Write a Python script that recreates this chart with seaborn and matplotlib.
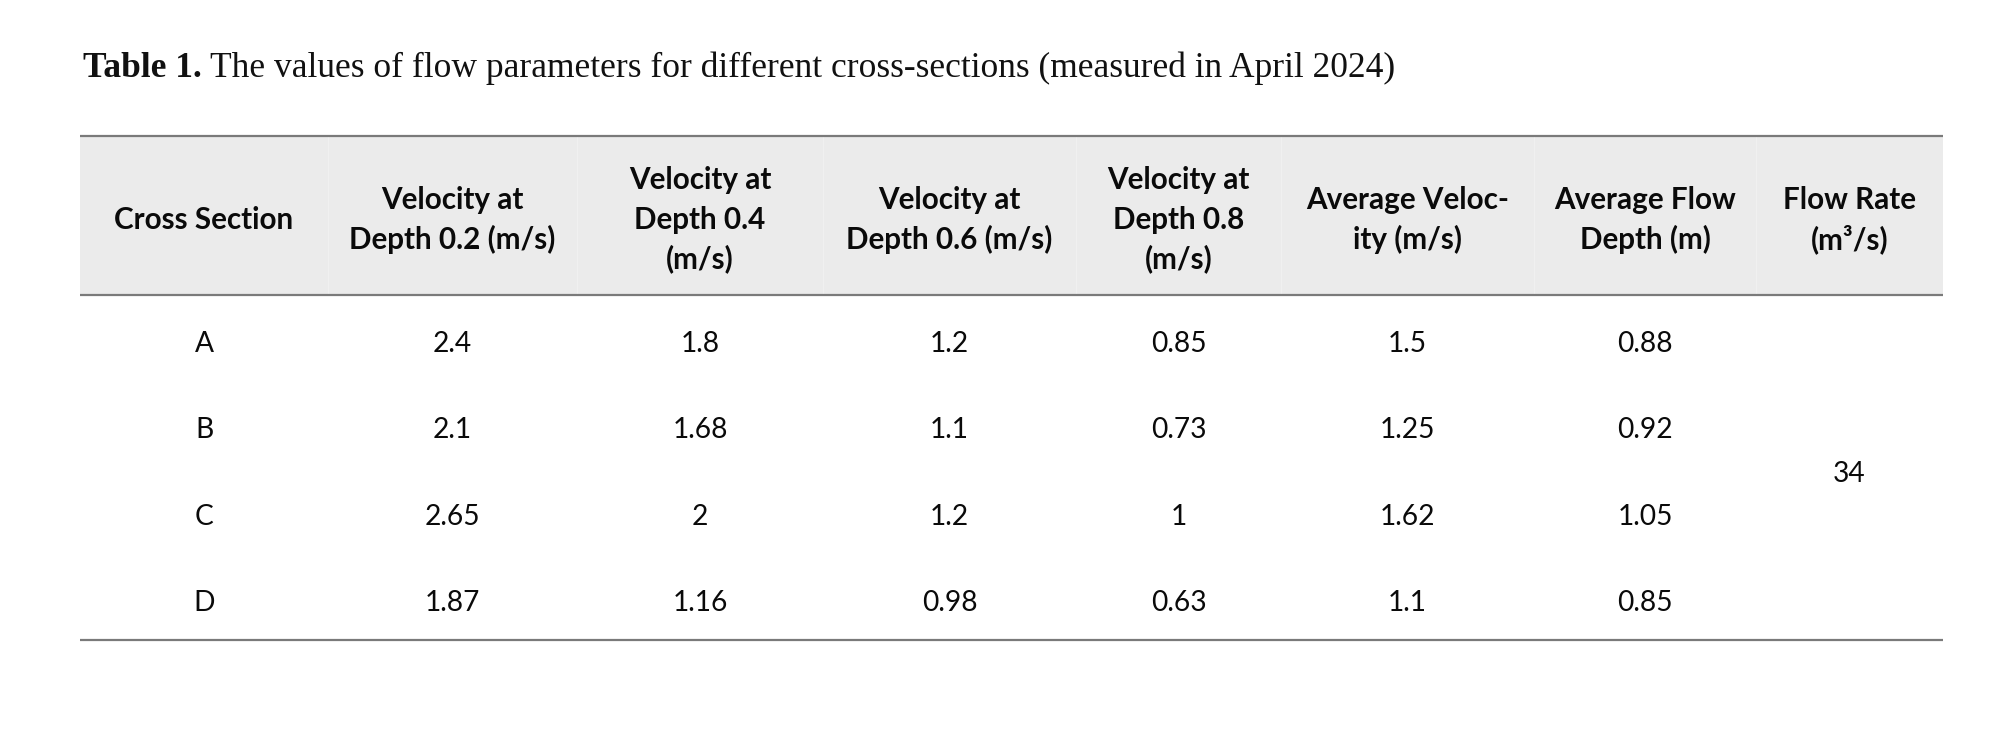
import matplotlib
matplotlib.use("Agg")
import matplotlib.pyplot as plt
import seaborn as sns

# ---------------- data ----------------
title_bold = "Table 1."
title_rest = "The values of flow parameters for different cross-sections (measured in April 2024)"

headers = [
    "Cross Section",
    "Velocity at\nDepth 0.2 (m/s)",
    "Velocity at\nDepth 0.4\n(m/s)",
    "Velocity at\nDepth 0.6 (m/s)",
    "Velocity at\nDepth 0.8\n(m/s)",
    "Average Veloc-\nity (m/s)",
    "Average Flow\nDepth (m)",
    "Flow Rate\n(m³/s)",
]
sections = ["A", "B", "C", "D"]
vel_02 = [2.4, 2.1, 2.65, 1.87]
vel_04 = [1.8, 1.68, 2, 1.16]
vel_06 = [1.2, 1.1, 1.2, 0.98]
vel_08 = [0.85, 0.73, 1, 0.63]
avg_velocity = [1.5, 1.25, 1.62, 1.1]
avg_depth = [0.88, 0.92, 1.05, 0.85]
flow_rate = 34

# ---------------- layout (pixels) ----------------
W, H = 2000, 740
col_edges = [80, 328, 577, 823, 1076, 1281, 1534, 1756, 1943]
header_top, header_bottom, table_bottom = 136, 295, 640
title_x, title_baseline = 83, 77
title_width = 1313
header_center = 218
header_linestep = 39.5
body_offset = 3.5

HEADER_COLOR = "#EBEBEB"
RULE_COLOR = "#7A7A7A"

sns.set_theme(style="white")
plt.rcParams["font.family"] = ["Lato", "DejaVu Sans"]

fig = plt.figure(figsize=(W / 100, H / 100), dpi=100)
fig.patch.set_facecolor("white")
ax = fig.add_axes([0, 0, 1, 1])
ax.set_xlim(0, W)
ax.set_ylim(H, 0)
ax.axis("off")
renderer = fig.canvas.get_renderer()


def width_of(t):
    return t.get_window_extent(renderer).width


# header background + rules
ax.fill_between([col_edges[0], col_edges[-1]], header_top, header_bottom,
                color=HEADER_COLOR, lw=0, zorder=0)
for e in col_edges[1:-1]:
    ax.vlines(e, header_top, header_bottom, color="#F0F0F0", lw=0.8, zorder=1)
ax.hlines([header_top, header_bottom, table_bottom], col_edges[0], col_edges[-1],
          color=RULE_COLOR, lw=1.6, zorder=2)

centers = [(a + b) / 2 for a, b in zip(col_edges[:-1], col_edges[1:])]

# ---- title ----
tb = ax.text(title_x, title_baseline, title_bold, fontsize=25, fontweight="bold",
             family=["Liberation Serif", "DejaVu Serif"], va="baseline", ha="left", color="#111111")
tr = ax.text(0, title_baseline, title_rest, fontsize=25,
             family=["Liberation Serif", "DejaVu Serif"], va="baseline", ha="left", color="#111111")
gap_em = 0.22
for _ in range(2):
    fs = tb.get_fontsize()
    total = width_of(tb) + width_of(tr) + gap_em * fs * 100 / 72
    new = fs * title_width / total
    tb.set_fontsize(new)
    tr.set_fontsize(new)
fs = tb.get_fontsize()
tr.set_x(title_x + width_of(tb) + gap_em * fs * 100 / 72)

# ---- header font fitting ----
probe = ax.text(0, 0, "Cross Section", fontsize=22, fontweight="bold", alpha=0)
for _ in range(2):
    probe.set_fontsize(probe.get_fontsize() * 179 / width_of(probe))
header_fs = probe.get_fontsize()
probe.remove()

cap_half = 11
for cx, h in zip(centers, headers):
    lines = h.split("\n")
    n = len(lines)
    for i, line in enumerate(lines):
        y = header_center + cap_half + (i - (n - 1) / 2) * header_linestep
        ax.text(cx, y, line, fontsize=header_fs, fontweight="bold",
                ha="center", va="baseline", color="#0A0A0A", zorder=3)

# ---- body font fitting ----
probe = ax.text(0, 0, "0.85", fontsize=22, alpha=0)
for _ in range(2):
    probe.set_fontsize(probe.get_fontsize() * 55.7 / width_of(probe))
body_fs = probe.get_fontsize()
probe.remove()

row_h = (table_bottom - header_bottom) / len(sections)
columns = [sections, vel_02, vel_04, vel_06, vel_08, avg_velocity, avg_depth]
for j, col in enumerate(columns):
    for i, v in enumerate(col):
        s = v if isinstance(v, str) else f"{v:g}"
        y = header_bottom + (i + 0.5) * row_h + body_offset + 10.5
        ax.text(centers[j], y, s, fontsize=body_fs, ha="center", va="baseline",
                color="#0A0A0A", zorder=3)

# merged flow-rate cell
y_fr = header_bottom + 2 * row_h + body_offset + 10.5
ax.text(centers[-1], y_fr, f"{flow_rate:g}", fontsize=body_fs, ha="center",
        va="baseline", color="#0A0A0A", zorder=3)

fig.savefig("out.png", dpi=100, facecolor="white")
